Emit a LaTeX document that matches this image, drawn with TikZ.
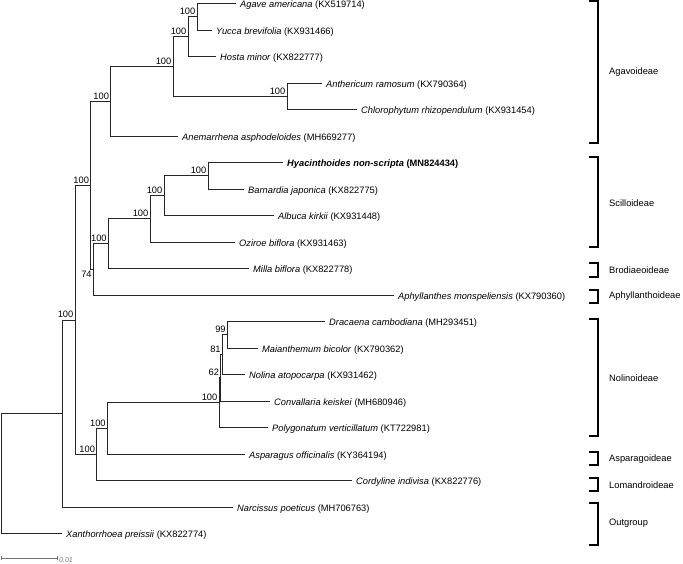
\documentclass[tikz,border=0pt]{standalone}
\usepackage{fontspec}
\setmainfont{Liberation Sans}
\begin{document}
\begin{tikzpicture}[x=1pt,y=-1pt,
  br/.style={draw=black!85,line width=0.8pt},
  tip/.style={anchor=base west,inner sep=0pt,font=\fontsize{9.3}{11}\selectfont},
  sup/.style={anchor=base east,inner sep=0pt,font=\fontsize{9.3}{11}\selectfont},
  grp/.style={anchor=west,inner sep=0pt,font=\fontsize{9.3}{11}\selectfont},
  brk/.style={draw=black,line width=1.1pt},
  scl/.style={draw=black!55,line width=0.6pt}]
\useasboundingbox (0,0) rectangle (683,563);
% tips
\coordinate (tAg) at (236,3.5);
\coordinate (tYu) at (212,30);
\coordinate (tHo) at (216,56.5);
\coordinate (tAn) at (322,83);
\coordinate (tCh) at (357,109.5);
\coordinate (tAm) at (178,136);
\coordinate (tHy) at (283,162.5);
\coordinate (tBa) at (244,189);
\coordinate (tAl) at (274,215.5);
\coordinate (tOz) at (235,242);
\coordinate (tMi) at (249,268.5);
\coordinate (tAp) at (394,295);
\coordinate (tDr) at (325,321.5);
\coordinate (tMa) at (258,348);
\coordinate (tNo) at (245,374.5);
\coordinate (tCo) at (270,401);
\coordinate (tPo) at (268,427.5);
\coordinate (tAs) at (245,454);
\coordinate (tCy) at (352,480.5);
\coordinate (tNa) at (233,507);
\coordinate (tXa) at (62,533.5);
% internal nodes
\coordinate (n1) at (197,16.75);
\coordinate (n2) at (188,36.6);
\coordinate (n3) at (287,96.25);
\coordinate (n4) at (173,66.4);
\coordinate (n5) at (110.7,101.2);
\coordinate (n6) at (208,175.75);
\coordinate (n7) at (164,195.6);
\coordinate (n8) at (150,218.8);
\coordinate (n9) at (108.3,243.7);
\coordinate (n10) at (93.3,269.3);
\coordinate (n11) at (90.7,185.3);
\coordinate (n12) at (227.3,334.75);
\coordinate (n13) at (222.3,354.6);
\coordinate (n14) at (220.7,377.8);
\coordinate (n15) at (219,402.7);
\coordinate (n16) at (107.3,428.3);
\coordinate (n17) at (96.7,454.4);
\coordinate (n18) at (75,319.9);
\coordinate (n19) at (62.3,413.5);
\coordinate (root) at (1,473.5);
% branches
\draw[br] (n1) |- (tAg); \draw[br] (n1) |- (tYu);
\draw[br] (n2) |- (n1);  \draw[br] (n2) |- (tHo);
\draw[br] (n3) |- (tAn); \draw[br] (n3) |- (tCh);
\draw[br] (n4) |- (n2);  \draw[br] (n4) |- (n3);
\draw[br] (n5) |- (n4);  \draw[br] (n5) |- (tAm);
\draw[br] (n6) |- (tHy); \draw[br] (n6) |- (tBa);
\draw[br] (n7) |- (n6);  \draw[br] (n7) |- (tAl);
\draw[br] (n8) |- (n7);  \draw[br] (n8) |- (tOz);
\draw[br] (n9) |- (n8);  \draw[br] (n9) |- (tMi);
\draw[br] (n10) |- (n9); \draw[br] (n10) |- (tAp);
\draw[br] (n11) |- (n5); \draw[br] (n11) |- (n10);
\draw[br] (n12) |- (tDr); \draw[br] (n12) |- (tMa);
\draw[br] (n13) |- (n12); \draw[br] (n13) |- (tNo);
\draw[br] (n14) |- (n13); \draw[br] (n14) |- (tCo);
\draw[br] (n15) |- (n14); \draw[br] (n15) |- (tPo);
\draw[br] (n16) |- (n15); \draw[br] (n16) |- (tAs);
\draw[br] (n17) |- (n16); \draw[br] (n17) |- (tCy);
\draw[br] (n18) |- (n11); \draw[br] (n18) |- (n17);
\draw[br] (n19) |- (n18); \draw[br] (n19) |- (tNa);
\draw[br] (root) |- (n19); \draw[br] (root) |- (tXa);
% tip labels
\node[tip] (lAg) at ([shift={(4,4)}]tAg) {\textit{Agave americana} (KX519714)};
\node[tip] (lYu) at ([shift={(4,4)}]tYu) {\textit{Yucca brevifolia} (KX931466)};
\node[tip] (lHo) at ([shift={(4,4)}]tHo) {\textit{Hosta minor} (KX822777)};
\node[tip] (lAn) at ([shift={(4,4)}]tAn) {\textit{Anthericum ramosum} (KX790364)};
\node[tip] (lCh) at ([shift={(4,4)}]tCh) {\textit{Chlorophytum rhizopendulum} (KX931454)};
\node[tip] (lAm) at ([shift={(4,4)}]tAm) {\textit{Anemarrhena asphodeloides} (MH669277)};
\node[tip] (lHy) at ([shift={(4,4)}]tHy) {\textbf{\textit{Hyacinthoides non-scripta} (MN824434)}};
\node[tip] (lBa) at ([shift={(4,4)}]tBa) {\textit{Barnardia japonica} (KX822775)};
\node[tip] (lAl) at ([shift={(4,4)}]tAl) {\textit{Albuca kirkii} (KX931448)};
\node[tip] (lOz) at ([shift={(4,4)}]tOz) {\textit{Oziroe biflora} (KX931463)};
\node[tip] (lMi) at ([shift={(4,4)}]tMi) {\textit{Milla biflora} (KX822778)};
\node[tip] (lAp) at ([shift={(4,4)}]tAp) {\textit{Aphyllanthes monspeliensis} (KX790360)};
\node[tip] (lDr) at ([shift={(4,4)}]tDr) {\textit{Dracaena cambodiana} (MH293451)};
\node[tip] (lMa) at ([shift={(4,4)}]tMa) {\textit{Maianthemum bicolor} (KX790362)};
\node[tip] (lNo) at ([shift={(4,4)}]tNo) {\textit{Nolina atopocarpa} (KX931462)};
\node[tip] (lCo) at ([shift={(4,4)}]tCo) {\textit{Convallaria keiskei} (MH680946)};
\node[tip] (lPo) at ([shift={(4,4)}]tPo) {\textit{Polygonatum verticillatum} (KT722981)};
\node[tip] (lAs) at ([shift={(4,4)}]tAs) {\textit{Asparagus officinalis} (KY364194)};
\node[tip] (lCy) at ([shift={(4,4)}]tCy) {\textit{Cordyline indivisa} (KX822776)};
\node[tip] (lNa) at ([shift={(4,4)}]tNa) {\textit{Narcissus poeticus} (MH706763)};
\node[tip] (lXa) at ([shift={(4,4)}]tXa) {\textit{Xanthorrhoea preissii} (KX822774)};
% support values
\foreach \n/\v in {n1/100,n2/100,n3/100,n4/100,n5/100,n6/100,n7/100,n8/100,n9/100,n11/100,n12/99,n13/81,n14/62,n15/100,n16/100,n17/100,n18/100}
  \node[sup] (s\n) at ([shift={(-1.5,-2)}]\n) {\v};
\node[sup] (sn10) at ([shift={(-1.5,8.5)}]n10) {74};
% clade brackets
\foreach \nm/\ya/\yb/\yl/\txt in {A/1/143/72/Agavoideae, S/157/247/203/Scilloideae, B/263/277/270/Brodiaeoideae, H/290/303/296/Aphyllanthoideae, N/319/436/378/Nolinoideae, P/452/465/459/Asparagoideae, L/478/491/485/Lomandroideae, O/503/545/523/Outgroup}{
  \coordinate (b\nm t) at (598,\ya);
  \coordinate (b\nm b) at (598,\yb);
  \draw[brk] ([shift={(-9,0)}]b\nm t) -- (b\nm t) -- (b\nm b) -- ([shift={(-9,0)}]b\nm b);
  \node[grp] (g\nm) at (609,\yl) {\txt};
}
% scale bar
\coordinate (s0) at (1,558);
\coordinate (s1) at (57,558);
\draw[scl] (s0) -- (s1);
\draw[scl] ([shift={(0,-2)}]s0) -- ([shift={(0,2)}]s0);
\draw[scl] ([shift={(0,-2)}]s1) -- ([shift={(0,2)}]s1);
\node[anchor=base west,inner sep=0pt,text=black!55,font=\fontsize{7}{8}\selectfont\itshape] (sl) at ([shift={(2,4)}]s1) {0.01};
\end{tikzpicture}
\end{document}
